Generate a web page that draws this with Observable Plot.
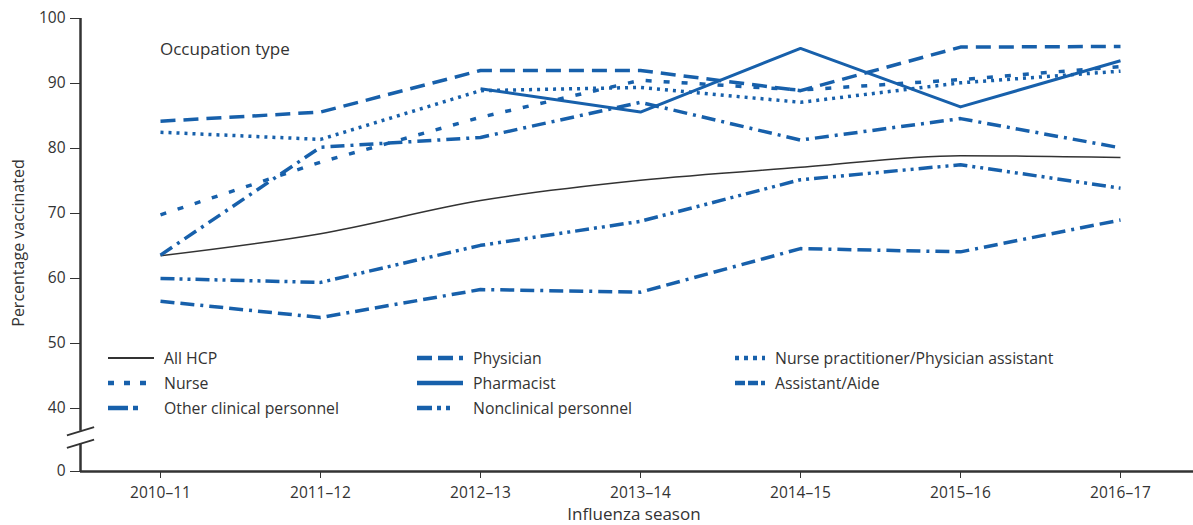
<!DOCTYPE html>
<html>
<head>
<meta charset="utf-8">
<script src="https://cdn.jsdelivr.net/npm/d3@7"></script>
<script src="https://cdn.jsdelivr.net/npm/@observablehq/plot@0.6"></script>
<style>
  body { margin: 0; background: #fff; }
  #wrap { position: relative; width: 1193px; height: 525px; font-family: "Open Sans", sans-serif; color: #333; overflow: hidden; }
  #wrap svg.plot { position: absolute; left: 0; top: 0; }
  .occ { position: absolute; left: 160px; top: 37px; font-size: 17px; color: #333; }
  .leg { position: absolute; display: flex; align-items: center; font-size: 15.8px; white-space: nowrap; color: #333; }
  .leg svg { margin-right: 10px; }
  .xlab { position: absolute; left: 634px; top: 513px; transform: translate(-50%, -50%); font-size: 17px; white-space: nowrap; }
  .ylab { position: absolute; left: 18px; top: 243px; transform: translate(-50%, -50%) rotate(-90deg); font-size: 16px; white-space: nowrap; }
</style>
</head>
<body>
<div id="wrap"></div>
<script>
// ---------- data ----------
const seasons = ["2010–11", "2011–12", "2012–13", "2013–14", "2014–15", "2015–16", "2016–17"];

const seriesNames = [
  "All HCP", "Physician", "Nurse practitioner/Physician assistant",
  "Nurse", "Pharmacist", "Assistant/Aide",
  "Other clinical personnel", "Nonclinical personnel"
];

const allHCP        = [63.5, 66.9, 72.0, 75.1, 77.1, 78.9, 78.6];
const physician     = [84.2, 85.6, 92.0, 92.0, 88.9, 95.6, 95.7];
const npPA          = [82.5, 81.4, 88.9, 89.4, 87.1, 90.1, 91.9];
const nurse         = [69.8, 77.9, 84.8, 90.5, 89.0, 90.6, 92.6];
const pharmacist    = [null, null, 89.2, 85.6, 95.4, 86.4, 93.5];
const assistantAide = [56.5, 54.0, 58.3, 57.9, 64.6, 64.1, 69.0];
const otherClinical = [63.6, 80.2, 81.7, 87.1, 81.3, 84.6, 80.1];
const nonclinical   = [60.0, 59.4, 65.1, 68.8, 75.2, 77.5, 73.9];

const yTicks = [0, 40, 50, 60, 70, 80, 90, 100];
const yBreak = [17.6, 25.6];   // axis break (value range hidden on the y axis)
const xTitle = "Influenza season";
const yTitle = "Percentage vaccinated";
const panelTitle = "Occupation type";

// ---------- styles ----------
const blue = "#1760ab";
const seriesValues = [allHCP, physician, npPA, nurse, pharmacist, assistantAide, otherClinical, nonclinical];
const seriesStyle = [
  {stroke: "#333", strokeWidth: 1.5, dash: null},
  {stroke: blue, strokeWidth: 3.5, dash: "15,8"},
  {stroke: blue, strokeWidth: 3.5, dash: "3,5"},
  {stroke: blue, strokeWidth: 3.5, dash: "6,12"},
  {stroke: blue, strokeWidth: 3, dash: null},
  {stroke: blue, strokeWidth: 3.5, dash: "14,6,14,6,3,6"},
  {stroke: blue, strokeWidth: 3.5, dash: "14,6,3,6"},
  {stroke: blue, strokeWidth: 3.5, dash: "14,5,3,5,3,5"}
];
const legendDash = [null, "15,6", "4,5", "6,10", null, "10,3,10,3,4,20", "20,5,5,20", "15,5,4,5,4,20"];

const seriesData = seriesValues.map((vals, i) =>
  vals.map((v, j) => ({series: seriesNames[i], idx: j, value: v})).filter(d => d.value != null)
);

const axisColor = "#333";
const xStart = -0.5;  // y axis sits half a step left of the first season

const lineMarks = seriesData.map((data, i) => Plot.line(data, {
  x: "idx", y: "value",
  stroke: seriesStyle[i].stroke,
  strokeWidth: seriesStyle[i].strokeWidth,
  strokeDasharray: seriesStyle[i].dash,
  strokeLinejoin: "round",
  strokeLinecap: "butt",
  curve: i === 0 ? "monotone-x" : "linear"
}));

const chart = Plot.plot({
  width: 1193,
  height: 525,
  marginLeft: 80,
  marginRight: 0,
  marginTop: 18,
  marginBottom: 54,
  style: {fontFamily: "Open Sans, sans-serif", fontSize: "15.5px", color: axisColor, background: "transparent", overflow: "visible"},
  x: {
    type: "linear",
    domain: [0, seasons.length - 1],
    range: [160, 1120],
    ticks: d3.range(seasons.length),
    tickFormat: i => seasons[i],
    tickSize: 7,
    tickPadding: 8,
    label: null,
    line: false
  },
  y: {
    type: "linear",
    domain: [0, 40, 100],
    range: [471, 408, 18],
    ticks: yTicks,
    tickSize: 10,
    tickPadding: 5,
    label: null,
    line: false
  },
  marks: [
    Plot.ruleY([0], {stroke: axisColor, strokeWidth: 2.5}),
    Plot.ruleX([{y1: yBreak[1], y2: 100}, {y1: 0, y2: yBreak[0]}], {
      x: () => xStart, y1: "y1", y2: "y2", stroke: axisColor, strokeWidth: 2.5
    }),
    Plot.link(yBreak, {
      x1: () => xStart - 0.085, x2: () => xStart + 0.085,
      y1: d => d - 2.6, y2: d => d + 2.6,
      stroke: axisColor, strokeWidth: 1.8
    }),
    ...lineMarks
  ]
});
chart.classList.add("plot");

const wrap = document.getElementById("wrap");
wrap.appendChild(chart);
d3.select(chart).selectAll("text").attr("fill", "#333");

// ---------- titles ----------
function addText(cls, txt) {
  const el = document.createElement("div");
  el.className = cls;
  el.textContent = txt;
  wrap.appendChild(el);
}
addText("occ", panelTitle);
addText("xlab", xTitle);
addText("ylab", yTitle);

// ---------- legend ----------
const legendOrder = [0, 1, 2, 3, 4, 5, 6, 7];
const legendColLeft = [108, 417, 735];
const legendSwatchW = [46, 46, 30];
const legendRowTop = [347, 372, 397];
legendOrder.forEach((si, k) => {
  const col = k % 3, row = Math.floor(k / 3);
  const item = document.createElement("div");
  item.className = "leg";
  item.style.left = legendColLeft[col] + "px";
  item.style.top = legendRowTop[row] + "px";
  item.style.height = "22px";
  const w = legendSwatchW[col];
  const st = seriesStyle[si];
  const sw = d3.create("svg").attr("width", w).attr("height", 10);
  sw.append("line").attr("x1", 0).attr("x2", w).attr("y1", 5).attr("y2", 5)
    .attr("stroke", st.stroke)
    .attr("stroke-width", si === 0 ? 1.8 : 4.5)
    .attr("stroke-dasharray", legendDash[si]);
  item.appendChild(sw.node());
  const t = document.createElement("span");
  t.textContent = seriesNames[si];
  item.appendChild(t);
  wrap.appendChild(item);
});
</script>
</body>
</html>
